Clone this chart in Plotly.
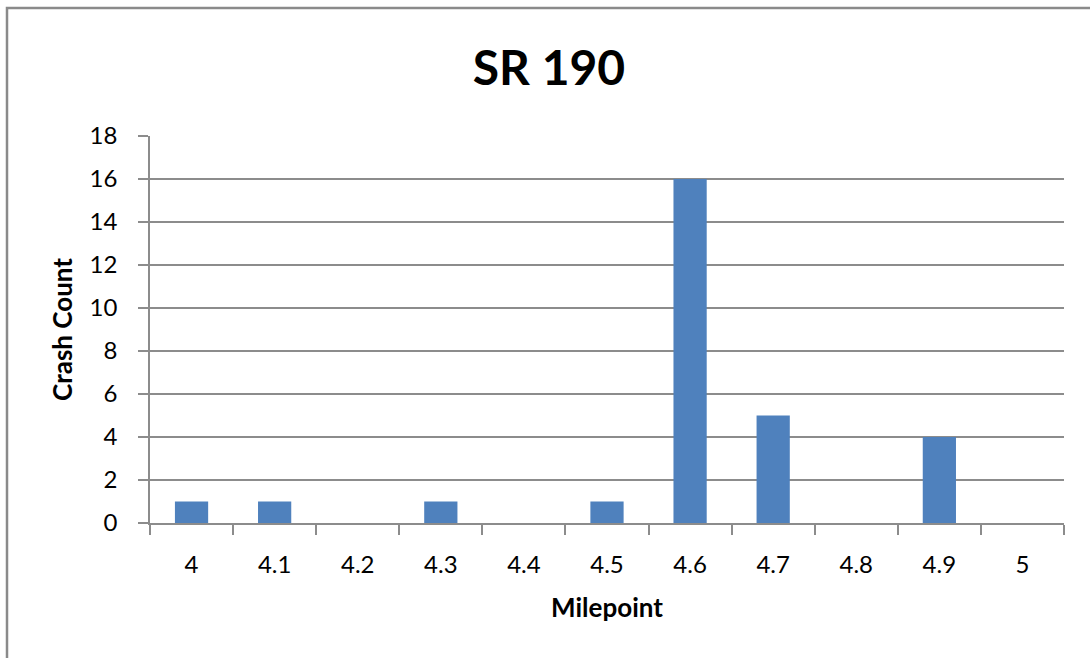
import plotly.graph_objects as go

# Crash counts per milepoint along SR 190
milepoints = ["4", "4.1", "4.2", "4.3", "4.4", "4.5", "4.6", "4.7", "4.8", "4.9", "5"]
crash_counts = [1, 1, 0, 1, 0, 1, 16, 5, 0, 4, 0]
y_ticks = [0, 2, 4, 6, 8, 10, 12, 14, 16, 18]

W, H = 1090, 658
L, R, T, B = 150, 26, 136, 135
plot_w = W - L - R
plot_h = H - T - B

def px_to_paper_x(px):
    return (px - L) / plot_w

def px_to_paper_y(py):
    return (H - B - py) / plot_h

font_family = "Lato, 'Open Sans', sans-serif"
axis_grey = "#8c8c8c"

fig = go.Figure(
    go.Bar(
        x=milepoints,
        y=crash_counts,
        marker=dict(color="#4f81bd", line=dict(width=0)),
        width=0.4,
    )
)

fig.update_layout(
    width=W,
    height=H,
    margin=dict(l=L, r=R, t=T, b=B),
    paper_bgcolor="white",
    plot_bgcolor="white",
    showlegend=False,
    font=dict(family=font_family, color="#000000", size=24),
    title=dict(
        text="<b>SR 190</b>",
        x=px_to_paper_x(549),
        xref="paper",
        xanchor="center",
        y=1 - 68 / H,
        yanchor="middle",
        font=dict(size=48, family=font_family, color="#000000"),
    ),
    xaxis=dict(
        type="category",
        tickson="boundaries",
        ticks="outside",
        ticklen=10,
        tickcolor=axis_grey,
        tickwidth=1.5,
        showline=True,
        linecolor=axis_grey,
        linewidth=1.5,
        showgrid=False,
        tickfont=dict(size=24),
        ticklabelstandoff=19,
        title=dict(text="<b>Milepoint</b>", font=dict(size=26), standoff=22),
    ),
    yaxis=dict(
        range=[0, 18],
        tickvals=y_ticks,
        ticks="outside",
        ticklen=10,
        tickcolor=axis_grey,
        tickwidth=1.5,
        showline=True,
        linecolor=axis_grey,
        linewidth=1.5,
        showgrid=True,
        gridcolor=axis_grey,
        gridwidth=1.5,
        zeroline=False,
        tickfont=dict(size=24),
        ticklabelstandoff=16,
        title=dict(text="<b>Crash Count</b>", font=dict(size=26), standoff=10),
    ),
)

# Chart-area frame (top and left edges visible)
fig.add_shape(
    type="rect",
    xref="paper", yref="paper",
    x0=px_to_paper_x(7), x1=px_to_paper_x(W + 20),
    y0=px_to_paper_y(H + 20), y1=px_to_paper_y(8),
    line=dict(color="#8a8a8a", width=2.5),
    fillcolor="rgba(0,0,0,0)",
    layer="below",
)

fig.write_html("out.html")
